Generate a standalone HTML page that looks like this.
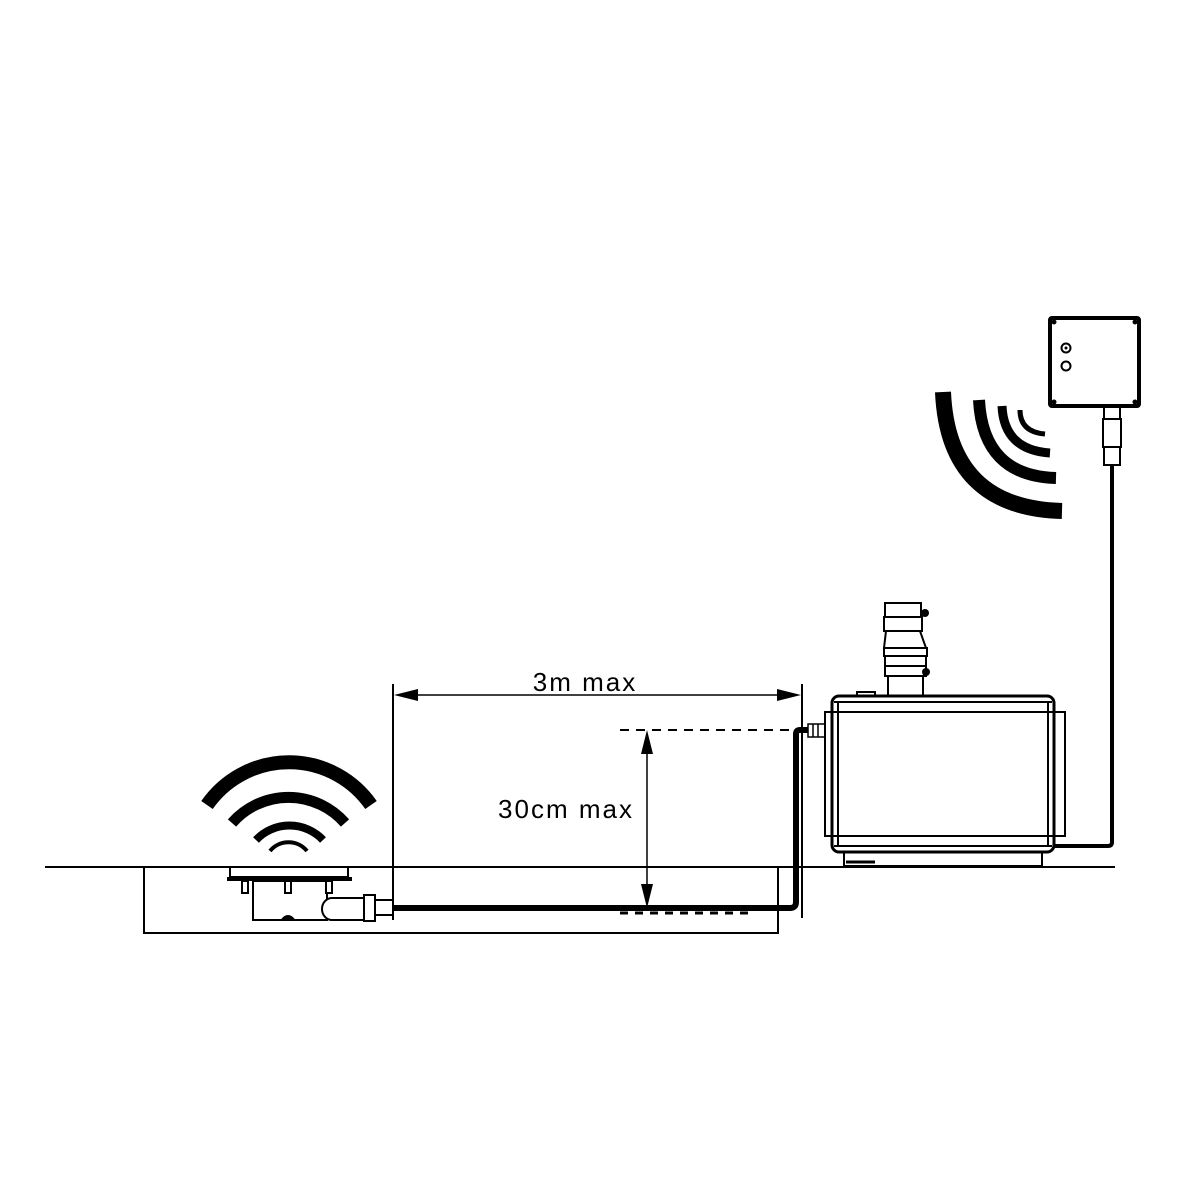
<!DOCTYPE html>
<html><head><style>html,body{margin:0;padding:0;background:#fff;}svg{display:block}</style></head>
<body>
<svg width="1200" height="1200" viewBox="0 0 1200 1200" xmlns="http://www.w3.org/2000/svg" fill="none" stroke="#000">
<!-- floor -->
<line x1="45" y1="867" x2="1115" y2="867" stroke-width="2"/>
<rect x="144" y="867" width="634" height="66" stroke-width="2"/>
<!-- dimension lines -->
<line x1="393" y1="684" x2="393" y2="920" stroke-width="2"/>
<line x1="802" y1="684" x2="802" y2="918" stroke-width="2"/>
<line x1="400" y1="695" x2="795" y2="695" stroke-width="1.5"/>
<polygon points="394,695 418,689 418,701" fill="#000" stroke="none"/>
<polygon points="801,695 777,689 777,701" fill="#000" stroke="none"/>
<text x="585" y="691" font-family="Liberation Sans, sans-serif" font-size="26" letter-spacing="2" text-anchor="middle" fill="#000" stroke="none">3m max</text>
<line x1="620" y1="730" x2="795" y2="730" stroke-width="2" stroke-dasharray="9,7"/>
<line x1="647" y1="740" x2="647" y2="900" stroke-width="1.5"/>
<polygon points="647,730 641,754 653,754" fill="#000" stroke="none"/>
<polygon points="647,908 641,884 653,884" fill="#000" stroke="none"/>
<text x="566" y="818" font-family="Liberation Sans, sans-serif" font-size="26" letter-spacing="2" text-anchor="middle" fill="#000" stroke="none">30cm max</text>
<line x1="620" y1="913" x2="750" y2="913" stroke-width="3" stroke-dasharray="8,7"/>
<!-- pipe -->
<path d="M393 908 H790 Q796 908 796 902 V734 Q796 730 800 730 H808" stroke-width="6"/>
<rect x="808" y="724" width="17" height="13" stroke-width="1.5" fill="#fff"/>
<line x1="813" y1="724" x2="813" y2="737" stroke-width="1.5"/><line x1="818" y1="724" x2="818" y2="737" stroke-width="1.5"/>
<!-- left wifi -->
<path d="M207 805 A100 100 0 0 1 371 805" stroke-width="14"/>
<path d="M232 823 A75 75 0 0 1 345 823" stroke-width="11"/>
<path d="M256 840 A46 46 0 0 1 323 840" stroke-width="8"/>
<path d="M270 851 A24 24 0 0 1 307 851" stroke-width="4"/>
<!-- drain -->
<rect x="230" y="867" width="118" height="10" stroke-width="2" fill="#fff"/>
<line x1="227" y1="879" x2="352" y2="879" stroke-width="4"/>
<rect x="253" y="881" width="74" height="39" stroke-width="2" fill="#fff"/>
<rect x="242" y="881" width="6" height="12" stroke-width="2" fill="#fff"/>
<rect x="285" y="881" width="6" height="12" stroke-width="2" fill="#fff"/>
<rect x="326" y="881" width="6" height="12" stroke-width="2" fill="#fff"/>
<path d="M281 920 Q288 911 295 920 Z" fill="#000" stroke-width="1"/>
<path d="M365 898 H332 A10 11 0 0 0 332 920 H365 Z" stroke-width="2" fill="#fff"/>
<rect x="364" y="895" width="11" height="26" stroke-width="2" fill="#fff"/>
<rect x="375" y="900" width="18" height="15" stroke-width="2" fill="#fff"/>
<!-- pump stack -->
<rect x="885" y="603" width="36" height="14" stroke-width="2" fill="#fff"/>
<rect x="884" y="617" width="38" height="14" stroke-width="2" fill="#fff"/>
<path d="M886 631 H920 L926 648 H884 Z" stroke-width="2" fill="#fff"/>
<rect x="884" y="648" width="43" height="8" stroke-width="2"/>
<rect x="885" y="656" width="41" height="10" stroke-width="2"/>
<rect x="885" y="666" width="41" height="10" stroke-width="2"/>
<rect x="888" y="676" width="35" height="20" stroke-width="2" fill="#fff"/>
<circle cx="925" cy="613" r="4" fill="#000" stroke="none"/>
<circle cx="926" cy="672" r="4" fill="#000" stroke="none"/>
<rect x="857" y="692" width="18" height="5" stroke-width="2"/>
<!-- pump body -->
<rect x="832" y="696" width="222" height="156" rx="7" stroke-width="3" fill="#fff"/>
<rect x="825" y="712" width="240" height="124" stroke-width="2"/>
<line x1="838" y1="701" x2="838" y2="847" stroke-width="2"/>
<line x1="1048" y1="701" x2="1048" y2="847" stroke-width="2"/>
<line x1="834" y1="702" x2="1052" y2="702" stroke-width="2"/>
<line x1="834" y1="846" x2="1052" y2="846" stroke-width="2"/>
<rect x="844" y="852" width="198" height="14" stroke-width="2"/>
<line x1="846" y1="862" x2="875" y2="862" stroke-width="3"/>
<!-- cable to box -->
<path d="M1055 846 H1108 Q1112 846 1112 842 V465" stroke-width="4"/>
<rect x="1104" y="407" width="16" height="12" stroke-width="2" fill="#fff"/>
<rect x="1103" y="419" width="18" height="28" stroke-width="2" fill="#fff"/>
<rect x="1104" y="447" width="16" height="18" stroke-width="2" fill="#fff"/>
<!-- control box -->
<rect x="1050" y="318" width="89" height="88" rx="2" stroke-width="4" fill="#fff"/>
<circle cx="1054" cy="322" r="2" fill="#000"/><circle cx="1135" cy="322" r="2" fill="#000"/>
<circle cx="1054" cy="402" r="2" fill="#000"/><circle cx="1135" cy="402" r="2" fill="#000"/>
<circle cx="1066" cy="348" r="4.5" stroke-width="2"/><circle cx="1066" cy="348" r="1" fill="#000"/>
<circle cx="1066" cy="366" r="4.5" stroke-width="2"/>
<!-- right waves -->
<path d="M943 392 Q948 508 1062 511" stroke-width="16"/>
<path d="M979 400 Q983 476 1056 478" stroke-width="12"/>
<path d="M1002 406 Q1004 450 1050 453" stroke-width="9"/>
<path d="M1020 410 Q1020 432 1045 434" stroke-width="5"/>
</svg>
</body></html>
